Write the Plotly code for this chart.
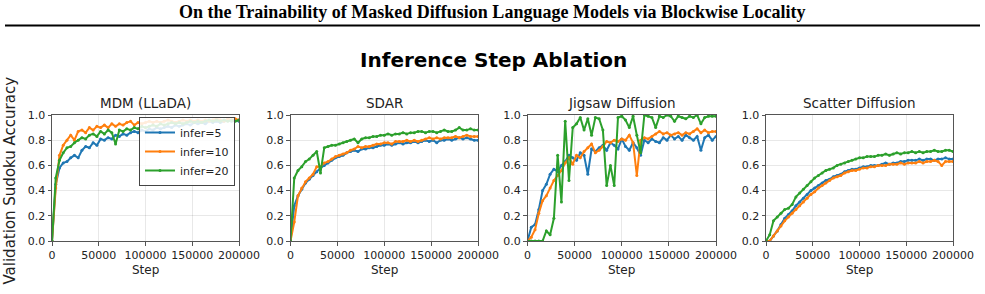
import plotly.graph_objects as go

W, H = 985, 294

steps = list(range(0, 200001, 4000))

series_names = ["infer=5", "infer=10", "infer=20"]
colors = ["#1f77b4", "#ff7f0e", "#2ca02c"]
panel_titles = ["MDM (LLaDA)", "SDAR", "Jigsaw Diffusion", "Scatter Diffusion"]
x_label = "Step"
x_tick_vals = [0, 50000, 100000, 150000, 200000]
x_tick_text = ["0", "50000", "100000", "150000", "200000"]
y_tick_vals = [0.0, 0.2, 0.4, 0.6, 0.8, 1.0]
y_tick_text = ["0.0", "0.2", "0.4", "0.6", "0.8", "1.0"]

mdm_infer5 = [0.0, 0.45, 0.58, 0.62, 0.63, 0.66, 0.68, 0.66, 0.72, 0.75, 0.74, 0.78, 0.76, 0.81, 0.80,
              0.82, 0.81, 0.84, 0.83, 0.85, 0.84, 0.86, 0.87, 0.86, 0.88, 0.87, 0.89, 0.88, 0.90, 0.89,
              0.90, 0.91, 0.90, 0.92, 0.91, 0.92, 0.93, 0.92, 0.94, 0.93, 0.94, 0.93, 0.95, 0.94, 0.95,
              0.94, 0.95, 0.96, 0.95, 0.96, 0.95]
mdm_infer10 = [0.0, 0.42, 0.68, 0.76, 0.80, 0.84, 0.80, 0.87, 0.88, 0.86, 0.90, 0.88, 0.91, 0.90, 0.92,
               0.90, 0.93, 0.91, 0.93, 0.92, 0.94, 0.95, 0.92, 0.94, 0.93, 0.94, 0.95, 0.94, 0.95, 0.94,
               0.95, 0.96, 0.95, 0.94, 0.95, 0.96, 0.95, 0.96, 0.95, 0.96, 0.95, 0.96, 0.95, 0.96, 0.97,
               0.96, 0.95, 0.97, 0.96, 0.97, 0.96]
mdm_infer20 = [0.0, 0.50, 0.64, 0.70, 0.74, 0.75, 0.78, 0.80, 0.82, 0.81, 0.84, 0.85, 0.83, 0.87, 0.85,
               0.88, 0.86, 0.77, 0.88, 0.87, 0.89, 0.88, 0.90, 0.89, 0.91, 0.90, 0.91, 0.92, 0.91, 0.93,
               0.92, 0.93, 0.94, 0.93, 0.94, 0.93, 0.94, 0.95, 0.94, 0.95, 0.94, 0.95, 0.96, 0.95, 0.96,
               0.95, 0.96, 0.95, 0.96, 0.95, 0.96]

sdar_infer5 = [0.0, 0.28, 0.36, 0.41, 0.46, 0.49, 0.52, 0.55, 0.58, 0.60, 0.62, 0.64, 0.66, 0.67, 0.68,
               0.70, 0.71, 0.72, 0.71, 0.73, 0.73, 0.74, 0.74, 0.75, 0.76, 0.76, 0.77, 0.76, 0.77, 0.78,
               0.77, 0.78, 0.78, 0.79, 0.78, 0.79, 0.80, 0.79, 0.80, 0.78, 0.80, 0.80, 0.81, 0.80, 0.81,
               0.82, 0.81, 0.82, 0.81, 0.80, 0.80]
sdar_infer10 = [0.0, 0.15, 0.36, 0.42, 0.47, 0.50, 0.53, 0.59, 0.59, 0.62, 0.63, 0.65, 0.67, 0.68, 0.69,
                0.70, 0.72, 0.73, 0.75, 0.74, 0.75, 0.75, 0.76, 0.77, 0.77, 0.78, 0.78, 0.77, 0.79, 0.79,
                0.79, 0.80, 0.79, 0.80, 0.79, 0.80, 0.81, 0.82, 0.81, 0.82, 0.81, 0.82, 0.82, 0.82, 0.83,
                0.82, 0.83, 0.84, 0.83, 0.83, 0.83]
sdar_infer20 = [0.0, 0.50, 0.56, 0.59, 0.63, 0.65, 0.68, 0.71, 0.54, 0.74, 0.75, 0.76, 0.76, 0.77, 0.78,
                0.79, 0.80, 0.81, 0.78, 0.81, 0.82, 0.82, 0.83, 0.83, 0.84, 0.84, 0.85, 0.84, 0.85, 0.85,
                0.86, 0.85, 0.86, 0.86, 0.87, 0.87, 0.86, 0.87, 0.87, 0.86, 0.87, 0.88, 0.87, 0.87, 0.88,
                0.90, 0.88, 0.88, 0.89, 0.88, 0.88]

jig_infer5 = [0.0, 0.11, 0.13, 0.25, 0.40, 0.45, 0.53, 0.57, 0.55, 0.60, 0.63, 0.68, 0.66, 0.64, 0.70,
              0.68, 0.53, 0.73, 0.71, 0.74, 0.76, 0.72, 0.78, 0.76, 0.73, 0.81, 0.75, 0.72, 0.78, 0.74,
              0.68, 0.80, 0.78, 0.81, 0.79, 0.78, 0.82, 0.80, 0.84, 0.81, 0.83, 0.80, 0.84, 0.82, 0.80,
              0.83, 0.72, 0.82, 0.84, 0.80, 0.83]
jig_infer10 = [0.0, 0.03, 0.09, 0.22, 0.32, 0.36, 0.42, 0.48, 0.52, 0.56, 0.62, 0.66, 0.61, 0.68, 0.66,
               0.71, 0.74, 0.77, 0.70, 0.72, 0.75, 0.79, 0.78, 0.80, 0.79, 0.81, 0.80, 0.84, 0.78, 0.52,
               0.80, 0.82, 0.81, 0.83, 0.85, 0.87, 0.85, 0.86, 0.84, 0.85, 0.86, 0.84, 0.86, 0.85, 0.87,
               0.89, 0.86, 0.88, 0.86, 0.87, 0.87]
jig_infer20 = [0.0, 0.0, 0.0, 0.0, 0.0, 0.08, 0.05, 0.18, 0.68, 0.31, 0.95, 0.48, 0.90, 0.93, 0.98,
               0.88, 0.97, 0.84, 0.98, 0.97, 0.88, 0.44, 0.60, 0.44, 0.98, 0.99, 0.96, 0.90, 0.99, 0.84,
               0.70, 1.0, 0.99, 0.98, 0.90, 0.99, 0.98, 1.0, 0.99, 0.95, 0.99, 0.98, 0.97, 0.99, 0.98,
               1.0, 0.93, 0.98, 0.99, 0.99, 0.99]

sct_infer5 = [0.0, 0.0, 0.04, 0.08, 0.13, 0.18, 0.21, 0.24, 0.28, 0.31, 0.34, 0.37, 0.40, 0.42, 0.44,
              0.46, 0.48, 0.49, 0.51, 0.52, 0.53, 0.55, 0.56, 0.57, 0.57, 0.58, 0.59, 0.59, 0.60, 0.60,
              0.60, 0.61, 0.62, 0.61, 0.62, 0.62, 0.63, 0.63, 0.64, 0.64, 0.64, 0.65, 0.64, 0.65, 0.65,
              0.64, 0.65, 0.65, 0.66, 0.65, 0.65]
sct_infer10 = [0.0, 0.0, 0.04, 0.08, 0.12, 0.16, 0.19, 0.22, 0.25, 0.28, 0.31, 0.34, 0.37, 0.39, 0.42,
               0.44, 0.46, 0.48, 0.50, 0.51, 0.52, 0.54, 0.55, 0.56, 0.56, 0.57, 0.58, 0.58, 0.59, 0.59,
               0.60, 0.60, 0.60, 0.61, 0.61, 0.61, 0.62, 0.61, 0.62, 0.62, 0.62, 0.63, 0.62, 0.63, 0.63,
               0.64, 0.63, 0.60, 0.63, 0.63, 0.63]
sct_infer20 = [0.0, 0.05, 0.16, 0.19, 0.22, 0.25, 0.26, 0.29, 0.35, 0.38, 0.41, 0.44, 0.47, 0.50, 0.52,
               0.54, 0.56, 0.57, 0.58, 0.60, 0.61, 0.62, 0.63, 0.64, 0.65, 0.66, 0.66, 0.67, 0.67, 0.67,
               0.68, 0.68, 0.69, 0.68, 0.69, 0.70, 0.69, 0.70, 0.70, 0.71, 0.70, 0.71, 0.70, 0.71, 0.71,
               0.72, 0.71, 0.71, 0.72, 0.72, 0.71]

panels = [
    [mdm_infer5, mdm_infer10, mdm_infer20],
    [sdar_infer5, sdar_infer10, sdar_infer20],
    [jig_infer5, jig_infer10, jig_infer20],
    [sct_infer5, sct_infer10, sct_infer20],
]

# layout in pixels
x_px = [(52, 239), (290.5, 478), (527.5, 716), (766, 953)]
y_top, y_bot = 115, 241

fig = go.Figure()
layout = dict(
    template="none",
    width=W, height=H, autosize=False,
    margin=dict(l=0, r=0, t=0, b=0, pad=0),
    paper_bgcolor="white", plot_bgcolor="white",
    font=dict(family="DejaVu Sans", color="#222222", size=11),
    showlegend=True,
)

annotations = []
for i, (ser, title) in enumerate(zip(panels, panel_titles)):
    xa = "xaxis" if i == 0 else f"xaxis{i+1}"
    ya = "yaxis" if i == 0 else f"yaxis{i+1}"
    xr = "x" if i == 0 else f"x{i+1}"
    yr = "y" if i == 0 else f"y{i+1}"
    x0, x1 = x_px[i]
    layout[xa] = dict(
        domain=[x0 / W, x1 / W], anchor=yr, range=[0, 200000], automargin=False,
        tickvals=x_tick_vals, ticktext=x_tick_text,
        showline=True, mirror=True, linecolor="#555555", linewidth=1,
        ticks="outside", ticklen=3.5, tickcolor="#555555", tickwidth=1,
        showgrid=True, gridcolor="rgba(0,0,0,0.09)", gridwidth=1, zeroline=False,
        tickfont=dict(size=11, color="#222222"),
    )
    layout[ya] = dict(
        domain=[1 - y_bot / H, 1 - y_top / H], anchor=xr, range=[0, 1], automargin=False,
        tickvals=y_tick_vals, ticktext=y_tick_text,
        showline=True, mirror=True, linecolor="#555555", linewidth=1,
        ticks="outside", ticklen=3.5, tickcolor="#555555", tickwidth=1,
        showgrid=True, gridcolor="rgba(0,0,0,0.09)", gridwidth=1, zeroline=False,
        tickfont=dict(size=11, color="#222222"),
    )
    for j, vals in enumerate(ser):
        fig.add_trace(go.Scatter(
            x=steps, y=vals, xaxis=xr, yaxis=yr,
            mode="lines+markers", name=series_names[j],
            line=dict(color=colors[j], width=2),
            marker=dict(color=colors[j], size=3),
            showlegend=(i == 0), legendgroup=series_names[j],
            cliponaxis=True,
        ))
    annotations.append(dict(
        text=title, x=(x0 + x1) / 2 / W, y=1 - 103 / H, xref="paper", yref="paper",
        xanchor="center", yanchor="middle", showarrow=False,
        font=dict(size=13.5, color="#222222", family="DejaVu Sans"),
    ))
    annotations.append(dict(
        text=x_label, x=(x0 + x1) / 2 / W, y=1 - 261 / H, xref="paper", yref="paper",
        xanchor="center", yanchor="top", showarrow=False,
        font=dict(size=12, color="#222222", family="DejaVu Sans"),
    ))

annotations.append(dict(
    text="<b>On the Trainability of Masked Diffusion Language Models via Blockwise Locality</b>",
    x=492 / W, y=1 - 12 / H, xref="paper", yref="paper", xanchor="center", yanchor="middle",
    showarrow=False, font=dict(size=18, color="black", family="Liberation Serif"),
))
annotations.append(dict(
    text="<b>Inference Step Ablation</b>", x=493 / W, y=1 - 60 / H, xref="paper", yref="paper",
    xanchor="center", yanchor="middle", showarrow=False,
    font=dict(size=20, color="black", family="DejaVu Sans"),
))
annotations.append(dict(
    text="Validation Sudoku Accuracy", x=9.5 / W, y=1 - 181 / H, xref="paper", yref="paper",
    xanchor="center", yanchor="middle", showarrow=False, textangle=-90,
    font=dict(size=15, color="#222222", family="DejaVu Sans"),
))
layout["annotations"] = annotations
layout["shapes"] = [dict(type="line", xref="paper", yref="paper",
                         x0=5 / W, x1=980 / W, y0=1 - 25.5 / H, y1=1 - 25.5 / H,
                         line=dict(color="black", width=2))]
layout["legend"] = dict(
    x=139 / W, y=1 - 117 / H, xanchor="left", yanchor="top",
    bgcolor="rgba(255,255,255,0.85)", bordercolor="#444444", borderwidth=1,
    font=dict(size=11, color="#222222", family="DejaVu Sans"),
    tracegroupgap=0, itemwidth=30,
)
fig.update_layout(**layout)
fig.write_html("out.html")
